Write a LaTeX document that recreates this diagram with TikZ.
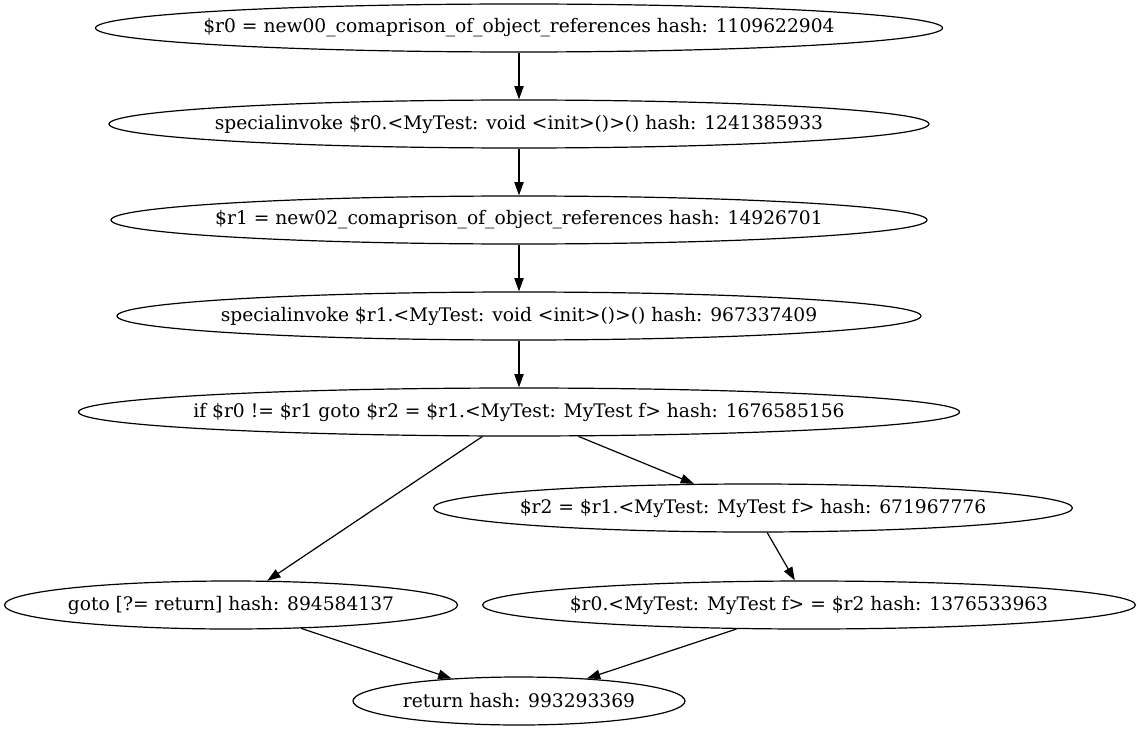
\documentclass[tikz,border=0pt]{standalone}
\usepackage{fontspec}
\setmainfont{DejaVu Serif}
\usetikzlibrary{shapes.geometric,arrows.meta}
\tikzset{
  gv/.style={ellipse, draw, line width=0.9pt, inner sep=0pt, minimum height=36pt, font=\fontsize{14pt}{16pt}\selectfont},
  gvedge/.style={draw, line width=0.9pt, -{Triangle[length=10pt,width=7pt]}}
}
\newcommand{\gvt}[1]{\makebox[0pt]{#1}}
\begin{document}
\begin{tikzpicture}[x=0.75pt,y=-0.75pt]
\useasboundingbox (0,0) rectangle (1141,731);
\node[gv, minimum width=635.25pt] (n1) at (519,28) {\gvt{\$r0 = new00\_comaprison\_of\_object\_references hash: 1109622904}};
\node[gv, minimum width=615pt] (n2) at (519,124) {\gvt{specialinvoke \$r0.<MyTest: void <init>()>() hash: 1241385933}};
\node[gv, minimum width=612pt] (n3) at (519,220) {\gvt{\$r1 = new02\_comaprison\_of\_object\_references hash: 14926701}};
\node[gv, minimum width=603pt] (n4) at (519,316) {\gvt{specialinvoke \$r1.<MyTest: void <init>()>() hash: 967337409}};
\node[gv, minimum width=660.75pt] (n5) at (519,412) {\gvt{if \$r0 != \$r1 goto \$r2 = \$r1.<MyTest: MyTest f> hash: 1676585156}};
\node[gv, minimum width=479.25pt] (n6) at (753,508) {\gvt{\$r2 = \$r1.<MyTest: MyTest f> hash: 671967776}};
\node[gv, minimum width=339.75pt] (n7) at (231,605) {\gvt{goto [?= return] hash: 894584137}};
\node[gv, minimum width=489.75pt] (n8) at (809,605) {\gvt{\$r0.<MyTest: MyTest f> = \$r2 hash: 1376533963}};
\node[gv, minimum width=249pt] (n9) at (519,701) {\gvt{return hash: 993293369}};
\draw[gvedge] (n1) -- (n2);
\draw[gvedge] (n2) -- (n3);
\draw[gvedge] (n3) -- (n4);
\draw[gvedge] (n4) -- (n5);
\draw[gvedge] (n5) -- (n7);
\draw[gvedge] (n5) -- (n6);
\draw[gvedge] (n6) -- (n8);
\draw[gvedge] (n7) -- (n9);
\draw[gvedge] (n8) -- (n9);
\end{tikzpicture}
\end{document}
